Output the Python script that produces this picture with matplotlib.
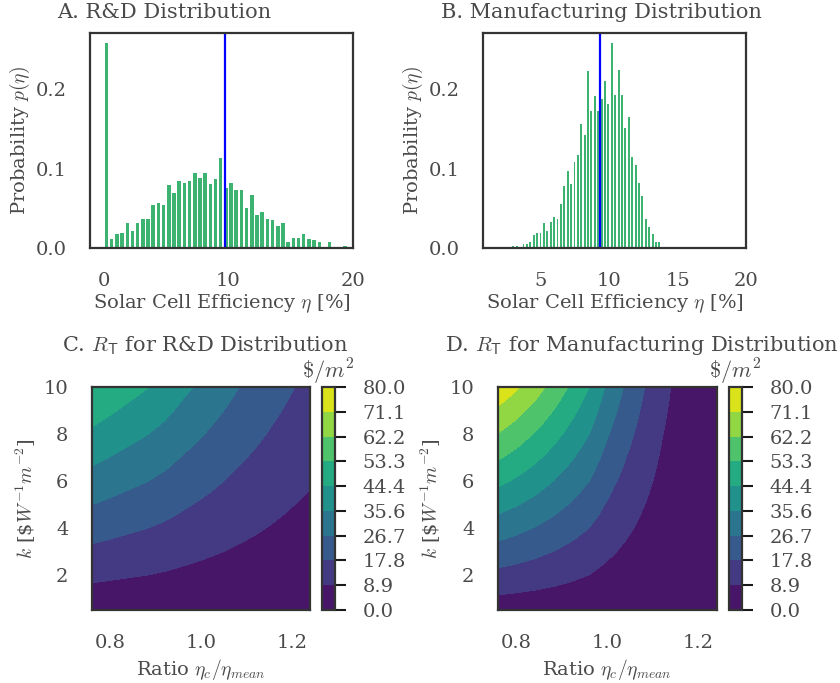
import numpy as np
import matplotlib
matplotlib.use('Agg')
import matplotlib.pyplot as plt

# histogram of R&D cell efficiencies (48 bins over 0-20 %)
rd_edges = np.linspace(0, 20, 49)
rd_prob = [0.258, 0.011, 0.018, 0.019, 0.032, 0.022, 0.031, 0.037, 0.037, 0.054,
           0.057, 0.054, 0.079, 0.069, 0.085, 0.082, 0.085, 0.095, 0.088, 0.095,
           0.081, 0.087, 0.114, 0.075, 0.082, 0.073, 0.073, 0.050, 0.067, 0.042,
           0.046, 0.037, 0.035, 0.028, 0.032, 0.007, 0.013, 0.012, 0.018, 0.011,
           0.010, 0.007, 0.000, 0.008, 0.001, 0.001, 0.003, 0.000]
rd_mean = 9.74

# histogram of manufacturing cell efficiencies (50 bins)
mfg_edges = np.linspace(1.40, 13.80, 51)
mfg_prob = [0.001, 0.001, 0.001, 0.001, 0.000, 0.000, 0.0025, 0.0025, 0.000, 0.0055,
            0.0055, 0.008, 0.016, 0.019, 0.019, 0.031, 0.022, 0.033, 0.039, 0.036,
            0.056, 0.078, 0.097, 0.081, 0.108, 0.117, 0.156, 0.142, 0.223, 0.173,
            0.192, 0.173, 0.188, 0.210, 0.182, 0.258, 0.193, 0.224, 0.193, 0.151,
            0.165, 0.115, 0.104, 0.082, 0.065, 0.037, 0.026, 0.018, 0.007, 0.007]
mfg_mean = 9.36

# R_T = k * f(ratio): f
ratio = [0.76, 0.80, 0.84, 0.88, 0.92, 0.96, 1.00, 1.04, 1.08, 1.12, 1.16, 1.20, 1.24]
f_rd = [5.35, 5.05, 4.75, 4.48, 4.15, 3.75, 3.40, 3.05, 2.70, 2.40, 2.10, 1.82, 1.58]
f_mfg = [7.75, 7.22, 6.62, 5.95, 5.22, 4.45, 3.42, 2.57, 1.82, 1.15, 0.62, 0.30, 0.12]
k_vals = np.linspace(0.5, 10, 20)
levels = np.linspace(0, 80, 10)

text_col = '#4a4a4a'
plt.rcParams.update({
    'font.family': 'DejaVu Serif',
    'mathtext.fontset': 'cm',
    'font.size': 14,
    'text.color': text_col,
    'axes.labelcolor': text_col,
    'xtick.color': text_col,
    'ytick.color': text_col,
    'axes.edgecolor': '0.2',
    'axes.linewidth': 1.6,
    'xtick.major.size': 8,
    'ytick.major.size': 8,
    'xtick.major.pad': 9,
    'ytick.major.pad': 9,
    'xtick.major.width': 1.5,
    'ytick.major.width': 1.5,
    'xtick.labelsize': 14,
    'ytick.labelsize': 14,
})

fig = plt.figure(figsize=(8.4, 6.83), dpi=100)
W, H = 840.0, 683.0


def px_axes(l, t, r, b):
    return fig.add_axes([l / W, 1 - b / H, (r - l) / W, (b - t) / H])


bar_col = '#3cb371'


def hist_panel(ax, edges, prob, mean, rwidth, xticks, xlim):
    edges = np.asarray(edges)
    centers = (edges[:-1] + edges[1:]) / 2
    ax.hist(centers, bins=edges, weights=prob, rwidth=rwidth, color=bar_col)
    ax.axvline(mean, color='blue', lw=1.6)
    ax.set_xlim(*xlim)
    ax.set_ylim(0, 0.271)
    ax.set_xticks(xticks)
    ax.set_yticks([0, 0.1, 0.2])
    ax.set_yticklabels(['0.0', '0.1', '0.2'])
    ax.tick_params(left=False, bottom=False, colors=text_col)
    ax.set_xlabel(r'Solar Cell Efficiency $\eta$ [%]')
    ax.set_ylabel(r'Probability $p(\eta)$')
    ax.xaxis.set_label_coords(0.5, -0.205)
    ax.yaxis.set_label_coords(-0.22, 0.5)


axA = px_axes(90, 33, 353, 248)
hist_panel(axA, rd_edges, rd_prob, rd_mean, 0.68, [0, 10, 20], (-1.12, 20))
axB = px_axes(483, 33, 746, 248)
hist_panel(axB, mfg_edges, mfg_prob, mfg_mean, 0.55, [5, 10, 15, 20], (0.8, 20))


def contour_panel(ax, cax, f):
    Z = np.outer(k_vals, f)
    cs = ax.contourf(ratio, k_vals, Z, levels=levels, cmap='viridis')
    ax.set_xticks([0.8, 1.0, 1.2])
    ax.set_yticks([2, 4, 6, 8, 10])
    ax.tick_params(left=False, bottom=False)
    ax.set_xlabel(r'Ratio $\eta_c/\eta_{mean}$')
    ax.set_ylabel(r'$k$ [\$$W^{-1}m^{-2}$]')
    ax.xaxis.set_label_coords(0.5, -0.21)
    ax.yaxis.set_label_coords(-0.25, 0.5)
    cb = fig.colorbar(cs, cax=cax, ticks=levels, format='%.1f')
    cb.outline.set_linewidth(1.6)
    cb.outline.set_edgecolor('0.2')
    cax.tick_params(length=8, width=1.5, pad=12, color='0.1', labelcolor=text_col)
    cax.set_title(r'$\$/m^2$', fontsize=16, pad=3)


axC = px_axes(92, 387, 310, 610)
caxC = px_axes(322, 387, 334.5, 610)
contour_panel(axC, caxC, f_rd)
axD = px_axes(498, 387, 716.5, 610)
caxD = px_axes(729, 387, 741.5, 610)
contour_panel(axD, caxD, f_mfg)

fig.text(164 / W, 1 - 18 / H, 'A. R&D Distribution', ha='center', va='baseline', fontsize=15)
fig.text(601 / W, 1 - 18 / H, 'B. Manufacturing Distribution', ha='center', va='baseline', fontsize=15)
fig.text(205 / W, 1 - 351 / H, r'C. $R_\mathsf{T}$ for R&D Distribution', ha='center', va='baseline', fontsize=15)
fig.text(642 / W, 1 - 351 / H, r'D. $R_\mathsf{T}$ for Manufacturing Distribution', ha='center', va='baseline', fontsize=15)

fig.savefig('out.png', dpi=100)
